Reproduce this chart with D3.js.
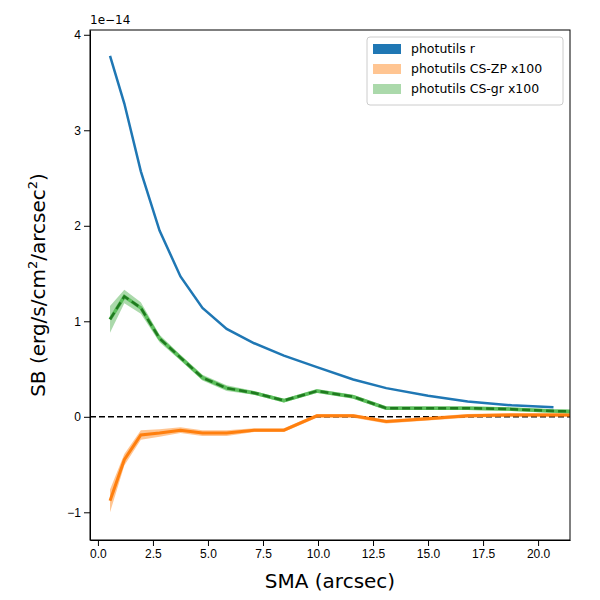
<!DOCTYPE html>
<html><head><meta charset="utf-8">
<script src="https://cdn.jsdelivr.net/npm/d3@7"></script>
<style>body{margin:0;background:#fff;font-family:"DejaVu Sans",sans-serif}</style>
</head><body><div id="chart"></div>
<script>
const sma = [0.55,1.2,1.95,2.8,3.75,4.75,5.85,7.1,8.45,9.95,11.6,13.1,15.0,16.8,18.8,20.7,22.8];
const sbR = [3.78,3.28,2.57,1.95,1.47,1.14,0.92,0.77,0.64,0.52,0.39,0.30,0.22,0.16,0.12,0.10];
const sbGr = [1.02,1.26,1.14,0.82,0.62,0.41,0.30,0.25,0.17,0.27,0.21,0.09,0.09,0.09,0.08,0.06,0.05];
const errGr = [0.14,0.07,0.06,0.04,0.03,0.03,0.03,0.02,0.02,0.02,0.02,0.02,0.02,0.02,0.02,0.02,0.02];
const sbZp = [-0.88,-0.45,-0.19,-0.17,-0.14,-0.17,-0.17,-0.14,-0.14,0.01,0.01,-0.05,-0.02,0.01,0.02,0.02,0.02];
const errZp = [0.12,0.06,0.05,0.04,0.03,0.03,0.03,0.02,0.02,0.02,0.02,0.02,0.02,0.02,0.02,0.02,0.02];
const xTicks = [0,2.5,5,7.5,10,12.5,15,17.5,20];
const yTicks = [-1,0,1,2,3,4];
const legendItems = [["photutils r","#1f77b4",1],["photutils CS-ZP x100","#ff7f0e",0.45],["photutils CS-gr x100","#2ca02c",0.4]];

const margin = {top: 30, right: 30, bottom: 60, left: 90};
const width = 600 - margin.left - margin.right;
const height = 600 - margin.top - margin.bottom;
const svg = d3.select('#chart').append('svg').attr('width',600).attr('height',600)
  .append('g').attr('transform','translate('+margin.left+','+margin.top+')');

const x = d3.scaleLinear().domain([-0.36,21.45]).range([0,width]);
const y = d3.scaleLinear().domain([-1.29,4.05]).range([height,0]);

svg.append('clipPath').attr('id','clip').append('rect').attr('width',width).attr('height',height);
const plot = svg.append('g').attr('clip-path','url(#clip)');

plot.append('line').attr('x1',0).attr('x2',width).attr('y1',y(0)).attr('y2',y(0))
  .attr('stroke','#000').attr('stroke-width',1.5).attr('stroke-dasharray','6,3');

const line = d3.line().x((d,i)=>x(sma[i])).y(d=>y(d));
const area = (v,e) => d3.area().x((d,i)=>x(sma[i])).y0((d,i)=>y(v[i]-e[i])).y1((d,i)=>y(v[i]+e[i]))(v);

// orange
plot.append('path').attr('d',area(sbZp,errZp)).attr('fill','#ff7f0e').attr('opacity',0.45);
plot.append('path').attr('d',line(sbZp)).attr('fill','none').attr('stroke','#ff7f0e').attr('stroke-width',3);
// green
plot.append('path').attr('d',area(sbGr,errGr)).attr('fill','#2ca02c').attr('opacity',0.4);
plot.append('path').attr('d',line(sbGr)).attr('fill','none').attr('stroke','#5cbf5c').attr('stroke-width',3.5);
plot.append('path').attr('d',line(sbGr)).attr('fill','none').attr('stroke','#1f7a1f').attr('stroke-width',2.5).attr('stroke-dasharray','8,4');
// blue
plot.append('path').attr('d',line(sbR)).attr('fill','none').attr('stroke','#1f77b4').attr('stroke-width',2.5);

svg.append('g').attr('transform','translate(0,'+height+')')
  .call(d3.axisBottom(x).tickValues(xTicks).tickFormat(d3.format('.1f')).tickSizeOuter(0))
  .call(g=>g.selectAll('text').attr('font-size',12).attr('fill','#000'));
svg.append('g').call(d3.axisLeft(y).tickValues(yTicks).tickFormat(d=>d<0?'\u2212'+(-d):d).tickSizeOuter(0))
  .call(g=>g.selectAll('text').attr('font-size',12).attr('fill','#000'));
svg.append('rect').attr('width',width).attr('height',height).attr('fill','none').attr('stroke','#000');

svg.append('text').attr('x',0).attr('y',-6).attr('font-size',12).text('1e\u221214');
svg.append('text').attr('x',width/2).attr('y',height+48).attr('text-anchor','middle').attr('font-size',20).text('SMA (arcsec)');
const yl = svg.append('text').attr('transform','translate(-45,'+height/2+') rotate(-90)').attr('text-anchor','middle').attr('font-size',20);
yl.append('tspan').text('SB (erg/s/cm');
yl.append('tspan').attr('font-size',13).attr('dy',-8).text('2');
yl.append('tspan').attr('dy',8).text('/arcsec');
yl.append('tspan').attr('font-size',13).attr('dy',-8).text('2');
yl.append('tspan').attr('dy',8).text(')');

const lg = svg.append('g').attr('transform','translate('+(width-203)+',7)');
lg.append('rect').attr('width',196).attr('height',68).attr('rx',3).attr('fill','#fff').attr('stroke','#ccc');
legendItems.forEach((d,i)=>{
  lg.append('rect').attr('x',6).attr('y',7+i*20).attr('width',28).attr('height',10).attr('fill',d[1]).attr('opacity',d[2]);
  lg.append('text').attr('x',44).attr('y',16+i*20).attr('font-size',12.5).text(d[0]);
});
</script></body></html>
